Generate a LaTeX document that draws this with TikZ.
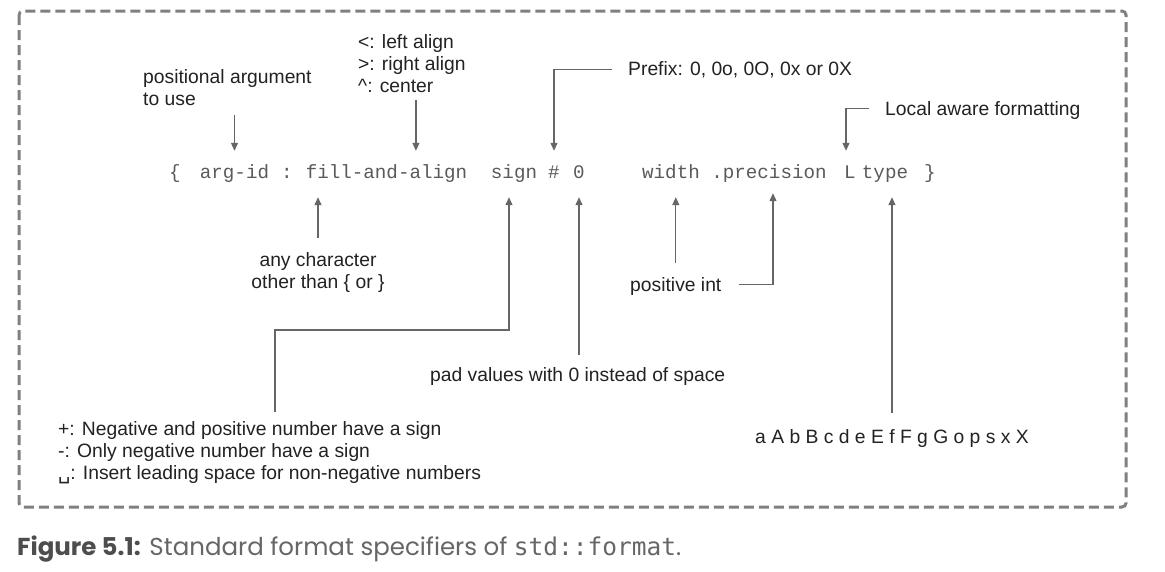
\documentclass[tikz,border=0pt]{standalone}
\usepackage{fontspec}
\setmainfont{Liberation Sans}
\newfontfamily\codefont{Liberation Mono}
\newfontfamily\capfont{Poppins}
\newfontfamily\capmono{DejaVu Sans Mono}
\newfontfamily\symfont{DejaVu Sans}
\usetikzlibrary{arrows.meta,calc}
\definecolor{framegray}{HTML}{808080}
\definecolor{codegray}{HTML}{5A5A5A}
\definecolor{linegray}{HTML}{666666}
\definecolor{txt}{HTML}{222222}
\definecolor{capbold}{HTML}{4D4D4D}
\definecolor{capreg}{HTML}{666666}
\begin{document}
\begin{tikzpicture}[x=1pt,y=-1pt,
  lbl/.style={inner sep=0pt, font=\fontsize{19.3}{22}\selectfont, text=txt,
    execute at begin node=\strut, execute at end node=\strut},
  tok/.style={inner sep=0pt, font=\codefont\fontsize{19.2}{22}\selectfont, text=codegray,
    minimum height=46pt, text height=13pt, text depth=4pt},
  arr/.style={draw=linegray, line width=1.2pt, -{Triangle[length=8pt,width=7pt]}},
  frame/.style={draw=framegray, line width=3pt, dash pattern=on 10pt off 5pt, rounded corners=4pt}]
\useasboundingbox (0,0) rectangle (1165,571);
\fill[white] (0,0) rectangle (1165,571);
\draw[frame] (19,11) rectangle (1126,507);

% code line tokens
\node[tok] (lb) at (175,174) {\{};
\node[tok] (argid) at (234.5,174) {arg-id};
\node[tok] (colon) at (287,174) {:};
\node[tok] (fill) at (386.5,174) {fill-and-align};
\node[tok] (sign) at (514,174) {sign};
\node[tok] (hash) at (554,174) {\#};
\node[tok] (zero) at (579,174) {0};
\node[tok] (width) at (671,174) {width};
\node[tok] (prec) at (769,174) {.precision};
\node[tok] (Ltok) at (850,174) {L};
\node[tok] (type) at (885,174) {type};
\node[tok] (rb) at (930,174) {\}};

% labels
\node[lbl, align=left, anchor=north west] (pos) at (143,69.4) {positional argument\\to use};
\node[lbl, align=left, anchor=north west] (align) at (358,34.4) {<: left align\\>: right align\\\textasciicircum: center};
\node[lbl, anchor=base west] (prefix) at (628,75.8) {Prefix: 0, 0o, 0O, 0x or 0X};
\node[lbl, anchor=base west] (local) at (885,115.8) {Local aware formatting};
\node[lbl, align=center, anchor=north] (any) at (318,252.4) {any character\\other than \{ or \}};
\node[lbl, anchor=base west] (posint) at (630,291.8) {positive int};
\node[lbl, anchor=base west] (pad) at (430,381.8) {pad values with 0 instead of space};
\node[lbl, align=left, anchor=north west] (signlbl) at (58,421.4) {+: Negative and positive number have a sign\\-: Only negative number have a sign\\{\symfont ␣}: Insert leading space for non-negative numbers};
\node[lbl, anchor=base west] (types) at (755,443.8) {a A b B c d e E f F g G o p s x X};

% connectors
\coordinate (sbend) at (275,330);
\draw[arr] ($(pos.south -| argid.north)+(0,3)$) -- (argid.north);
\draw[arr] ($(align.south)+(4,1)$) -- ($(align.south |- fill.north)+(4,0)$);
\draw[arr] ($(prefix.west)+(-16,-2)$) -| (hash.north);
\draw[arr] ($(local.west)+(-16,-3)$) -| ($(Ltok.north)+(-4,0)$);
\draw[arr] ($(any.north)+(0,-14)$) -- (any.north |- fill.south);
\draw[arr] ($(sbend |- signlbl.north)+(0,-9)$) -- (sbend) -| ($(sign.south)+(-5,0)$);
\draw[arr] ($(pad.north -| zero)+(0,-11)$) -- (zero.south);
\draw[arr] ($(posint.north)+(0,-13)$) -- (posint.north |- width.south);
\draw[arr] ($(posint.east)+(17,-3)$) -| ($(prec.south)+(4,-4)$);
\draw[arr] ($(types.north)+(0,-15)$) -- (types.north |- type.south);

% caption
\node[anchor=base west, inner sep=0pt, font=\capfont\fontsize{24.5}{28}\selectfont, text=capreg] (cap) at (17,555)
  {{\bfseries\color{capbold}Figure 5.1:} Standard format specifiers of {\capmono std::format}.};
\end{tikzpicture}
\end{document}
